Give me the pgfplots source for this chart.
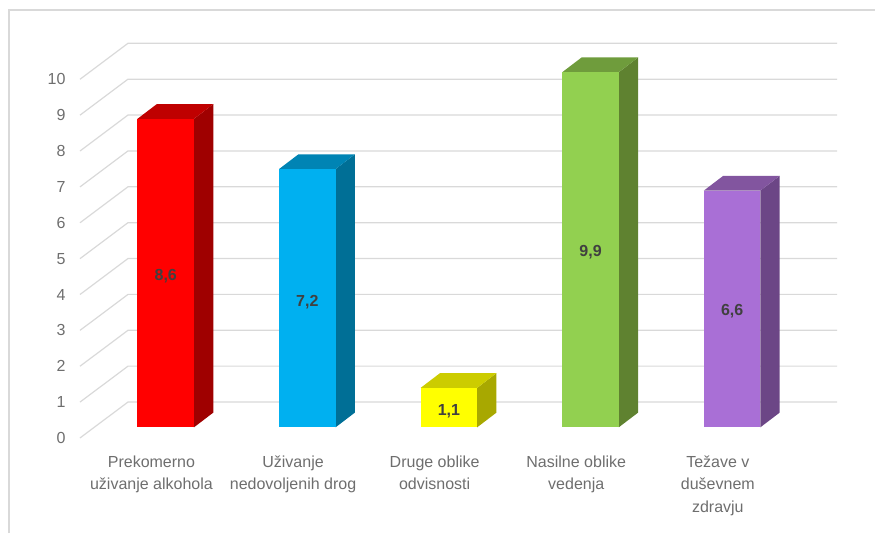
\documentclass[border=0pt]{standalone}
\usepackage{pgfplots}
\pgfplotsset{compat=1.18}
\usepackage{fontspec}
\setmainfont{Liberation Sans}
\definecolor{gridc}{HTML}{D9D9D9}
\definecolor{txt}{HTML}{6E6E6E}
\definecolor{lab}{HTML}{404040}
\definecolor{rF}{HTML}{FF0000}\definecolor{rT}{HTML}{BF0000}\definecolor{rS}{HTML}{9F0000}
\definecolor{bF}{HTML}{00B0F0}\definecolor{bT}{HTML}{0084B4}\definecolor{bS}{HTML}{006F96}
\definecolor{yF}{HTML}{FFFF00}\definecolor{yT}{HTML}{CCCC00}\definecolor{yS}{HTML}{A8A800}
\definecolor{gF}{HTML}{92D050}\definecolor{gT}{HTML}{6F9C3C}\definecolor{gS}{HTML}{5F8230}
\definecolor{pF}{HTML}{A96FD6}\definecolor{pT}{HTML}{82559F}\definecolor{pS}{HTML}{6C4686}
\pgfplotsset{
  gl/.style={draw=gridc,line width=1.2pt,no markers,forget plot},
  face/.style={draw=none,no markers,forget plot},
  bar/.style={ybar,bar width=0.399,bar shift=0pt,draw=none,forget plot},
}
\begin{document}
\begin{tikzpicture}[x=1pt,y=1pt]
\useasboundingbox (0,0) rectangle (875,533);
\begin{axis}[
  at={(68pt,88pt)},anchor=south west,
  width=807pt,height=445pt,scale only axis,
  xmin=-0.6903,xmax=5.0089,ymin=-0.4934,ymax=11.912,
  clip=false,
  axis line style={draw=none},
  major tick length=0pt,
  ytick={0,1,2,3,4,5,6,7,8,9,10},
  xtick={0,1,2,3,4},
  xticklabels={{Prekomerno\\uživanje alkohola},{Uživanje\\nedovoljenih drog},{Druge oblike\\odvisnosti},{Nasilne oblike\\vedenja},{Težave v\\duševnem\\zdravju}},
  /pgf/number format/assume math mode=true,
  yticklabel style={font=\fontsize{16}{18}\selectfont,text=txt,yshift=-10.7pt,xshift=1pt},
  xticklabel style={font=\fontsize{16}{22.5}\selectfont,text=txt,align=center,xshift=-14.3pt,yshift=-7pt},
  tick label style={/pgf/number format/fixed},
]
\draw[gridc,line width=1.5pt] (axis cs:-1.107,-2.947) -- (axis cs:-1.107,11.634) -- (axis cs:5.0089,11.634);
% gridlines: front, back-left, back-right
\addplot[gl] coordinates {(-0.6056,-0.298)(-0.2666,0.705)(4.7411,0.705)};
\addplot[gl] coordinates {(-0.6056,0.702)(-0.2666,1.705)(4.7411,1.705)};
\addplot[gl] coordinates {(-0.6056,1.702)(-0.2666,2.705)(4.7411,2.705)};
\addplot[gl] coordinates {(-0.6056,2.702)(-0.2666,3.705)(4.7411,3.705)};
\addplot[gl] coordinates {(-0.6056,3.702)(-0.2666,4.705)(4.7411,4.705)};
\addplot[gl] coordinates {(-0.6056,4.702)(-0.2666,5.705)(4.7411,5.705)};
\addplot[gl] coordinates {(-0.6056,5.702)(-0.2666,6.705)(4.7411,6.705)};
\addplot[gl] coordinates {(-0.6056,6.702)(-0.2666,7.705)(4.7411,7.705)};
\addplot[gl] coordinates {(-0.6056,7.702)(-0.2666,8.705)(4.7411,8.705)};
\addplot[gl] coordinates {(-0.6056,8.702)(-0.2666,9.705)(4.7411,9.705)};
\addplot[gl] coordinates {(-0.6056,9.702)(-0.2666,10.705)(4.7411,10.705)};
% bar 0
\addplot[face,fill=rS] coordinates {(0.1995,0)(0.3358,0.41)(0.3358,9.01)(0.1995,8.6)} -- cycle;
\addplot[face,fill=rT] coordinates {(-0.1995,8.6)(0.1995,8.6)(0.3358,9.01)(-0.0632,9.01)} -- cycle;
\addplot[bar,fill=rF] coordinates {(0,8.6)};
% bar 1
\addplot[face,fill=bS] coordinates {(1.1995,0)(1.3358,0.41)(1.3358,7.61)(1.1995,7.2)} -- cycle;
\addplot[face,fill=bT] coordinates {(0.8005,7.2)(1.1995,7.2)(1.3358,7.61)(0.9368,7.61)} -- cycle;
\addplot[bar,fill=bF] coordinates {(1,7.2)};
% bar 2
\addplot[face,fill=yS] coordinates {(2.1995,0)(2.3358,0.41)(2.3358,1.51)(2.1995,1.1)} -- cycle;
\addplot[face,fill=yT] coordinates {(1.8005,1.1)(2.1995,1.1)(2.3358,1.51)(1.9368,1.51)} -- cycle;
\addplot[bar,fill=yF] coordinates {(2,1.1)};
% bar 3
\addplot[face,fill=gS] coordinates {(3.1995,0)(3.3358,0.41)(3.3358,10.31)(3.1995,9.9)} -- cycle;
\addplot[face,fill=gT] coordinates {(2.8005,9.9)(3.1995,9.9)(3.3358,10.31)(2.9368,10.31)} -- cycle;
\addplot[bar,fill=gF] coordinates {(3,9.9)};
% bar 4
\addplot[face,fill=pS] coordinates {(4.1995,0)(4.3358,0.41)(4.3358,7.01)(4.1995,6.6)} -- cycle;
\addplot[face,fill=pT] coordinates {(3.8005,6.6)(4.1995,6.6)(4.3358,7.01)(3.9368,7.01)} -- cycle;
\addplot[bar,fill=pF] coordinates {(4,6.6)};
% value labels
\tikzset{vl/.style={font=\fontsize{16}{18}\selectfont\bfseries,text=lab,inner sep=0pt}}
\node[vl] at (axis cs:0,4.22) {8,6};
\node[vl] at (axis cs:1,3.49) {7,2};
\node[vl] at (axis cs:2,0.44) {1,1};
\node[vl] at (axis cs:3,4.87) {9,9};
\node[vl] at (axis cs:4,3.24) {6,6};
\end{axis}
\end{tikzpicture}
\end{document}
